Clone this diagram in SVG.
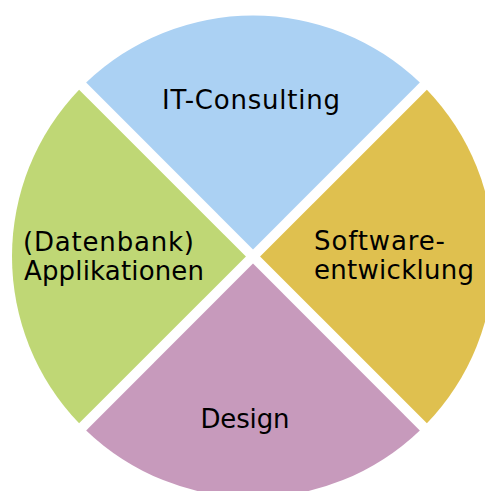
<svg xmlns="http://www.w3.org/2000/svg" width="485" height="491" viewBox="0 0 485 491">
  <style>
    .lbl { font-family: "DejaVu Sans", Verdana, sans-serif; font-size: 26px; fill: #000000; }
    .mid { text-anchor: middle; }
  </style>
  <rect width="485" height="491" fill="#ffffff"/>
  <g id="it-consulting">
    <path d="M253 249.43 L86.16 82.59 A241 241 0 0 1 419.84 82.59 Z" fill="#ABD1F3"/>
    <text class="lbl mid" x="251" y="108.5" textLength="178" lengthAdjust="spacing">IT-Consulting</text>
  </g>
  <g id="applikationen">
    <path d="M245.93 256.5 L79.09 423.34 A241 241 0 0 1 79.09 89.66 Z" fill="#BFD775"/>
    <text class="lbl" x="23" y="251" textLength="171" lengthAdjust="spacing">(Datenbank)</text>
    <text class="lbl" x="24" y="280" textLength="180" lengthAdjust="spacing">Applikationen</text>
  </g>
  <g id="softwareentwicklung">
    <path d="M260.07 256.5 L426.91 89.66 A241 241 0 0 1 426.91 423.34 Z" fill="#DFC04F"/>
    <text class="lbl" x="314" y="250" textLength="131" lengthAdjust="spacing">Software-</text>
    <text class="lbl" x="314" y="278.5" textLength="160" lengthAdjust="spacing">entwicklung</text>
  </g>
  <g id="design">
    <path d="M253 263.57 L419.84 430.41 A241 241 0 0 1 86.16 430.41 Z" fill="#C79ABC"/>
    <text class="lbl mid" x="245" y="428.3" textLength="89" lengthAdjust="spacing">Design</text>
  </g>
  <g id="connectors"/>
</svg>
